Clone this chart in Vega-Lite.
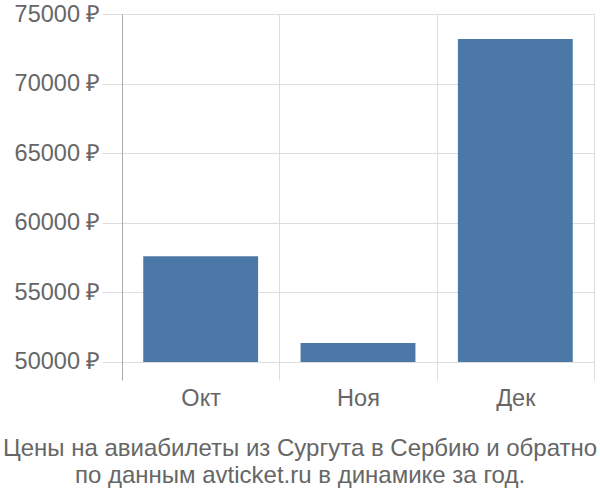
{
  "$schema": "https://vega.github.io/schema/vega-lite/v6.json",
  "autosize": "none",
  "width": 472,
  "height": 366,
  "padding": {"left": 122, "top": 14, "right": 6, "bottom": 120},
  "background": "#ffffff",
  "config": {
    "font": "Liberation Sans",
    "view": {"stroke": null},
    "axis": {
      "labelColor": "#666666",
      "labelFontSize": 23.5,
      "gridColor": "#dddddd",
      "tickColor": "#dddddd",
      "title": null
    }
  },
  "title": {
    "text": ["Цены на авиабилеты из Сургута в Сербию и обратно", "по данным avticket.ru в динамике за год."],
    "orient": "bottom",
    "anchor": "middle",
    "dx": -58,
    "fontSize": 24,
    "fontWeight": "normal",
    "color": "#666666",
    "lineHeight": 27,
    "offset": 27
  },
  "data": {
    "values": [
      {"month": "Окт", "price": 57600},
      {"month": "Ноя", "price": 51350},
      {"month": "Дек", "price": 73200}
    ]
  },
  "mark": {"type": "bar", "color": "#4c78a8", "width": {"band": 0.73}},
  "encoding": {
    "x": {
      "field": "month",
      "type": "nominal",
      "sort": null,
      "scale": {"paddingInner": 0, "paddingOuter": 0},
      "axis": {
        "labelAngle": 0,
        "domain": false,
        "ticks": false,
        "grid": true,
        "tickBand": "extent",
        "labelPadding": 6
      }
    },
    "y": {
      "field": "price",
      "type": "quantitative",
      "scale": {"domain": [48700, 75000], "nice": false, "zero": false},
      "axis": {
        "values": [50000, 55000, 60000, 65000, 70000, 75000],
        "labelExpr": "datum.value + ' ₽'",
        "domainColor": "#aaaaaa",
        "tickSize": 20,
        "labelPadding": 2,
        "grid": true
      }
    },
    "y2": {"datum": 50000}
  }
}
